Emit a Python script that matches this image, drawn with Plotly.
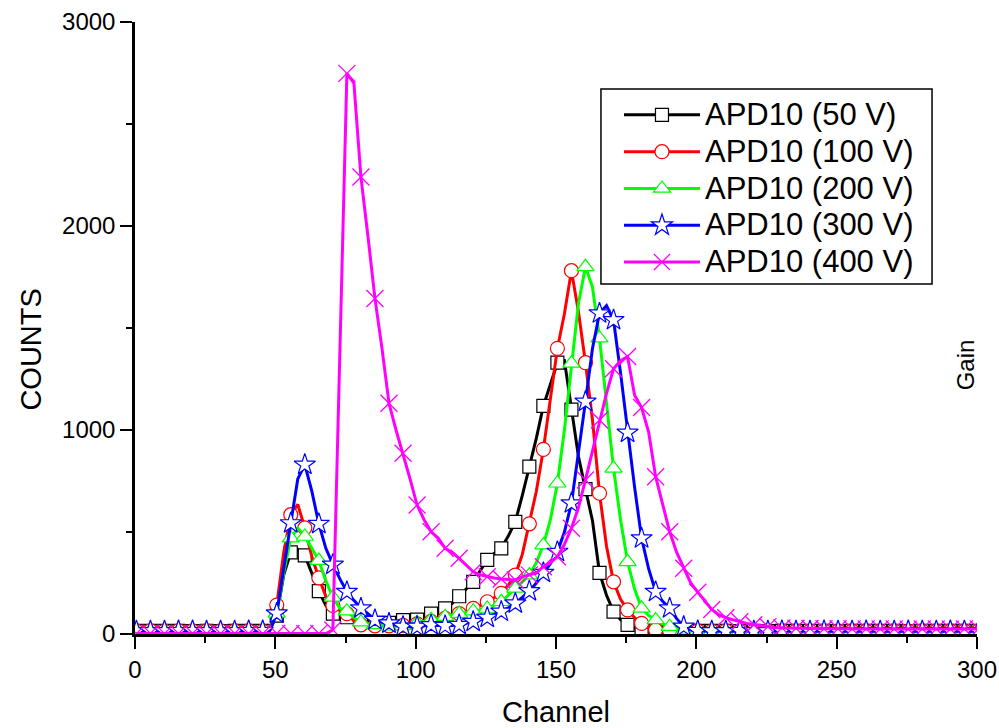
import plotly.graph_objects as go

# Channel grid (every 2.5 channels), markers every 5 channels
channels = [0.5 + 2.5 * i for i in range(121)]

apd_50v = [15, 16, 15, 14, 15, 16, 15, 15, 14, 15, 16, 15, 14, 15, 15, 16, 15, 14, 15, 18,
           90, 290, 400, 415, 385, 300, 210, 140, 100, 88, 82, 75, 68, 60, 55, 52, 55, 60, 68, 68,
           70, 85, 100, 112, 126, 150, 185, 220, 256, 310, 363, 395, 420, 480, 550, 680, 820, 960, 1118, 1230,
           1330, 1340, 1100, 870, 710, 555, 300, 190, 110, 70, 45, 30, 22, 18, 16, 15, 14, 15, 16, 15,
           15, 14, 15, 16, 15, 15, 14, 15, 16, 15, 14, 15, 15, 16, 15, 14, 15, 15, 16, 15,
           14, 15, 15, 16, 15, 14, 15, 16, 15, 15, 14, 15, 16, 15, 15, 14, 15, 16, 15, 15, 15]

apd_100v = [15, 15, 16, 15, 14, 15, 16, 15, 15, 14, 15, 16, 15, 14, 15, 16, 15, 15, 14, 18,
            142, 400, 585, 635, 520, 380, 275, 185, 140, 115, 100, 65, 45, 40, 40, 38, 40, 40, 42, 45,
            50, 55, 62, 70, 77, 90, 100, 112, 126, 140, 158, 178, 199, 240, 289, 390, 540, 700, 905, 1150,
            1400, 1570, 1781, 1580, 1330, 1050, 690, 430, 256, 170, 118, 80, 52, 30, 20, 16, 15, 14, 15, 16,
            15, 15, 14, 15, 16, 15, 14, 15, 15, 16, 15, 14, 15, 16, 15, 15, 14, 15, 16, 15,
            15, 14, 15, 16, 15, 15, 14, 15, 16, 15, 14, 15, 15, 16, 15, 14, 15, 16, 15, 15, 15]

apd_200v = [16, 15, 15, 16, 15, 14, 15, 16, 15, 15, 16, 15, 14, 15, 16, 15, 15, 16, 15, 18,
            101, 300, 470, 520, 478, 420, 360, 260, 180, 125, 112, 80, 58, 50, 45, 40, 38, 38, 40, 45,
            55, 62, 70, 78, 85, 95, 100, 108, 112, 118, 125, 140, 158, 190, 224, 255, 289, 350, 436, 560,
            739, 1000, 1327, 1620, 1800, 1700, 1450, 1130, 812, 560, 354, 220, 126, 90, 69, 50, 36, 25, 18, 16,
            15, 16, 15, 15, 16, 15, 14, 15, 16, 15, 15, 16, 15, 14, 15, 16, 15, 15, 16, 15,
            15, 16, 15, 14, 15, 16, 15, 15, 16, 15, 15, 14, 15, 16, 15, 15, 16, 15, 14, 15, 15]

apd_300v = [14, 15, 14, 15, 14, 14, 15, 14, 15, 14, 14, 15, 14, 15, 14, 14, 15, 14, 15, 16,
            101, 330, 543, 760, 830, 700, 540, 420, 340, 270, 207, 165, 126, 100, 69, 58, 52, 44, 36, 36,
            36, 40, 44, 42, 40, 42, 45, 52, 60, 70, 80, 95, 110, 128, 150, 178, 210, 250, 300, 345,
            403, 500, 641, 880, 1139, 1400, 1572, 1610, 1539, 1280, 987, 720, 469, 320, 207, 160, 126, 75, 36, 22,
            15, 14, 14, 15, 14, 14, 15, 14, 14, 15, 14, 14, 15, 14, 14, 15, 14, 14, 15, 14,
            14, 15, 14, 14, 15, 14, 14, 15, 14, 14, 15, 14, 14, 15, 14, 14, 15, 14, 14, 15, 14]

apd_400v = [2, 2, 3, 2, 2, 3, 2, 2, 3, 2, 2, 3, 2, 2, 3, 2, 2, 3, 2, 2,
            3, 2, 2, 3, 2, 2, 3, 2, 20, 1350, 2748, 2700, 2240, 1950, 1645, 1400, 1131, 1000, 886, 760,
            632, 560, 501, 470, 420, 400, 371, 340, 305, 290, 281, 275, 270, 268, 265, 280, 290, 300, 330, 350,
            379, 440, 518, 620, 755, 900, 1049, 1180, 1300, 1340, 1360, 1170, 1110, 990, 771, 640, 501, 400, 322, 250,
            205, 160, 120, 95, 80, 70, 60, 52, 45, 40, 36, 32, 30, 29, 28, 28, 27, 27, 26, 26,
            26, 25, 25, 26, 25, 25, 25, 24, 25, 25, 24, 25, 25, 24, 25, 25, 24, 25, 25, 24, 25]

series_names = ["APD10 (50 V)", "APD10 (100 V)", "APD10 (200 V)", "APD10 (300 V)", "APD10 (400 V)"]
series_values = [apd_50v, apd_100v, apd_200v, apd_300v, apd_400v]
colors = ["#000000", "#FF0000", "#00FF00", "#0000FF", "#FF00FF"]
symbols = ["square", "circle", "triangle-up", "star", "x-thin-open"]
sizes = [13, 14, 15, 16, 17]

x_ticks = [0, 50, 100, 150, 200, 250, 300]
y_ticks = [0, 1000, 2000, 3000]

FONT = "Arial, Liberation Sans, sans-serif"

fig = go.Figure()

for name, vals, col, sym, sz in zip(series_names, series_values, colors, symbols, sizes):
    if sym == "x-thin-open":
        mk = dict(symbol=sym, size=sz, color=col, line=dict(color=col, width=1.3))
    else:
        mk = dict(symbol=sym, size=sz, color="white", line=dict(color=col, width=1.2))
    # line through all points
    fig.add_trace(go.Scatter(x=channels, y=vals, mode="lines", line=dict(color=col, width=3),
                             showlegend=False, legendgroup=name, hoverinfo="skip"))
    # markers every 5 channels
    fig.add_trace(go.Scatter(x=channels[::2], y=vals[::2], mode="markers", marker=mk,
                             showlegend=False, legendgroup=name, name=name))
    # legend entry
    fig.add_trace(go.Scatter(x=[None], y=[None], mode="lines+markers",
                             name='<span style="font-size:31px">' + name + '</span>',
                             line=dict(color=col, width=3), marker=mk, legendgroup=name))

fig.update_layout(
    width=999, height=728,
    margin=dict(l=135, r=22, t=22, b=94, autoexpand=False),
    paper_bgcolor="white", plot_bgcolor="white",
    font=dict(family=FONT, color="black"),
    legend=dict(x=0.5748, y=0.8865, xanchor="left", yanchor="top",
                bordercolor="rgba(0,0,0,0)", borderwidth=0, bgcolor="rgba(0,0,0,0)",
                font=dict(size=26, family=FONT), itemwidth=76,
                tracegroupgap=0),
    xaxis=dict(range=[0, 300], tickvals=x_ticks, ticks="outside", ticklen=12, tickwidth=2,
               tickcolor="black", showline=True, linecolor="black", linewidth=2.5,
               showgrid=False, zeroline=False, tickfont=dict(size=24, family=FONT),
               automargin=False,
               minor=dict(dtick=25, ticks="outside", ticklen=6, tickwidth=2, tickcolor="black")),
    yaxis=dict(range=[0, 3000], tickvals=y_ticks, ticks="outside", ticklen=12, tickwidth=2,
               tickcolor="black", showline=True, linecolor="black", linewidth=2.5,
               showgrid=False, zeroline=False, tickfont=dict(size=24, family=FONT),
               automargin=False,
               minor=dict(dtick=500, ticks="outside", ticklen=6, tickwidth=2, tickcolor="black")),
    shapes=[
        dict(type="rect", xref="paper", yref="paper", x0=0.5534, x1=0.9466, y0=0.5719, y1=0.8905,
             line=dict(color="black", width=1.5), fillcolor="white", layer="above"),
    ],
    annotations=[
        dict(text="Channel", xref="paper", yref="paper", x=0.5, y=-0.127, xanchor="center",
             yanchor="middle", showarrow=False, font=dict(size=29, family=FONT)),
        dict(text="COUNTS", xref="paper", yref="paper", x=-0.124, y=0.464, xanchor="center",
             yanchor="middle", showarrow=False, textangle=-90, font=dict(size=29, family=FONT)),
        dict(text="Gain", xref="paper", yref="paper", x=1.0, xshift=-12, y=0.439, xanchor="center",
             yanchor="middle", showarrow=False, textangle=-90, font=dict(size=24, family=FONT)),
    ],
)

fig.write_html("out.html")
